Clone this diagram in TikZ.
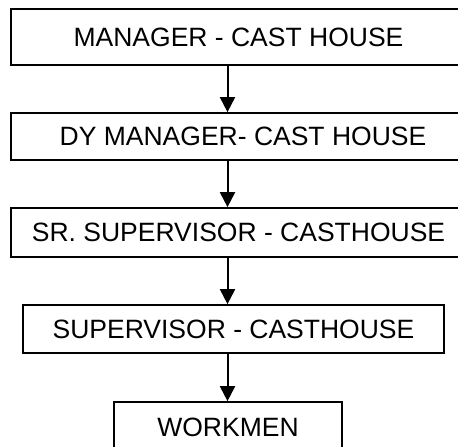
\documentclass[tikz,border=0pt]{standalone}
\usepackage{fontspec}
\setmainfont{Liberation Sans}
\usetikzlibrary{arrows.meta}
\tikzset{
  box/.style={draw=black, line width=1.7pt, fill=white, inner sep=0pt,
    font=\fontsize{26.5}{30}\selectfont, text=black},
  link/.style={draw=black, line width=2pt, -{Triangle[width=15pt,length=15pt]}}
}
\begin{document}
\begin{tikzpicture}[x=1pt,y=-1pt]
\useasboundingbox (0,0) rectangle (458,447);
\clip (0,0) rectangle (458,447);
\fill[white] (0,0) rectangle (458,447);
\node[box, minimum width=455pt, minimum height=56pt] (n1) at (238.5,37) {MANAGER - CAST HOUSE};
\node[box, minimum width=464pt, minimum height=47pt] (n2) at (243,136.5) {DY MANAGER- CAST HOUSE};
\node[box, minimum width=455pt, minimum height=49pt] (n3) at (238.5,232.5) {SR. SUPERVISOR - CASTHOUSE};
\node[box, minimum width=421pt, minimum height=48pt] (n4) at (233.5,329) {SUPERVISOR - CASTHOUSE};
\node[box, minimum width=228pt, minimum height=50pt] (n5) at (228,427) {WORKMEN};
\coordinate (ax) at (227.5,0);
\draw[link] (n1.south -| ax) -- (n2.north -| ax);
\draw[link] (n2.south -| ax) -- (n3.north -| ax);
\draw[link] (n3.south -| ax) -- (n4.north -| ax);
\draw[link] (n4.south -| ax) -- (n5.north -| ax);
\end{tikzpicture}
\end{document}
